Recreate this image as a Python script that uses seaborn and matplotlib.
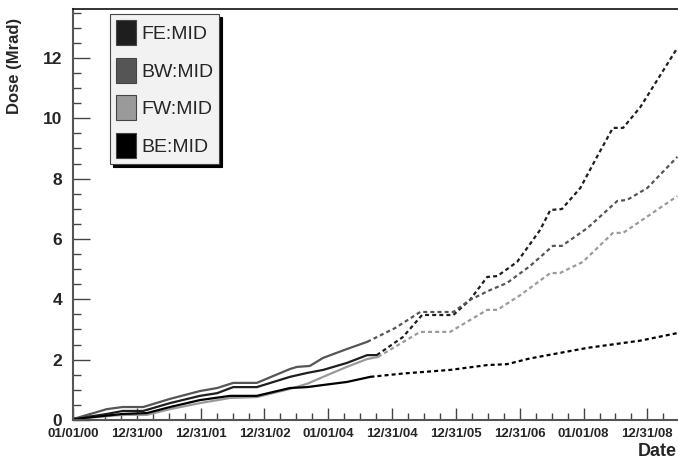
import pandas as pd
import seaborn as sns
import matplotlib.pyplot as plt
from matplotlib.patches import Patch
from matplotlib.ticker import MultipleLocator

# detectors and colours
detectors = ['FE:MID', 'BW:MID', 'FW:MID', 'BE:MID']
colors = ['#1e1e1e', '#555555', '#9a9a9a', '#000000']

# time axis: years since 01/01/00 (one tick = 365 days)
tick_labels = ['01/01/00', '12/31/00', '12/31/01', '12/31/02', '01/01/04',
               '12/31/04', '12/31/05', '12/31/06', '01/01/08', '12/31/08']

# measured dose (solid)
fe_t = [0, 0.53, 0.78, 1.10, 1.52, 1.99, 2.26, 2.51, 2.88, 3.40, 3.67, 3.92, 4.29, 4.61, 4.76]
fe_d = [0.03, 0.20, 0.30, 0.30, 0.56, 0.80, 0.89, 1.09, 1.09, 1.43, 1.56, 1.66, 1.89, 2.15, 2.15]
bw_t = [0, 0.53, 0.78, 1.10, 1.52, 1.99, 2.26, 2.51, 2.88, 3.40, 3.51, 3.71, 3.92, 4.29, 4.61]
bw_d = [0.03, 0.36, 0.43, 0.43, 0.70, 0.96, 1.06, 1.23, 1.23, 1.69, 1.76, 1.79, 2.06, 2.35, 2.59]
fw_t = [0, 0.78, 1.16, 1.52, 1.99, 2.46, 2.88, 3.40, 3.67, 3.92, 4.29, 4.61, 4.78]
fw_d = [0.03, 0.17, 0.17, 0.36, 0.56, 0.73, 0.76, 1.03, 1.20, 1.43, 1.76, 2.02, 2.09]
be_t = [0, 0.78, 1.16, 1.52, 1.99, 2.46, 2.88, 3.40, 3.67, 3.92, 4.29, 4.66]
be_d = [0.03, 0.20, 0.23, 0.43, 0.66, 0.80, 0.80, 1.06, 1.09, 1.16, 1.26, 1.43]

# projected dose (dashed)
fe_pt = [4.76, 5.17, 5.47, 5.96, 6.22, 6.49, 6.65, 6.96, 7.32, 7.48, 7.66, 7.95, 8.21, 8.46, 8.62, 8.89, 9.47]
fe_pd = [2.15, 2.75, 3.48, 3.48, 3.98, 4.74, 4.77, 5.24, 6.30, 6.96, 6.99, 7.69, 8.72, 9.68, 9.68, 10.37, 12.33]
bw_pt = [4.61, 5.05, 5.44, 5.96, 6.22, 6.54, 6.80, 7.16, 7.52, 7.66, 8.06, 8.53, 8.68, 9.00, 9.47]
bw_pd = [2.59, 3.05, 3.58, 3.58, 3.98, 4.31, 4.54, 5.10, 5.77, 5.77, 6.36, 7.26, 7.29, 7.69, 8.72]
fw_pt = [4.78, 5.44, 5.91, 6.49, 6.65, 7.01, 7.48, 7.63, 7.99, 8.46, 8.62, 9.47]
fw_pd = [2.09, 2.92, 2.92, 3.65, 3.65, 4.14, 4.87, 4.87, 5.24, 6.20, 6.20, 7.42]
be_pt = [4.66, 5.17, 5.91, 6.49, 6.80, 7.16, 8.06, 8.89, 9.47]
be_pd = [1.43, 1.54, 1.66, 1.82, 1.85, 2.04, 2.39, 2.63, 2.88]

rows = []
series = {
    'FE:MID': (fe_t, fe_d, fe_pt, fe_pd),
    'BW:MID': (bw_t, bw_d, bw_pt, bw_pd),
    'FW:MID': (fw_t, fw_d, fw_pt, fw_pd),
    'BE:MID': (be_t, be_d, be_pt, be_pd),
}
for name, (t, d, pt, pd_) in series.items():
    for a, b in zip(t, d):
        rows.append({'year': a, 'dose': b, 'detector': name, 'phase': 'measured'})
    for a, b in zip(pt, pd_):
        rows.append({'year': a, 'dose': b, 'detector': name, 'phase': 'projected'})
df = pd.DataFrame(rows)

sns.set_style('white')
plt.rcParams['font.family'] = ['Liberation Sans', 'DejaVu Sans']

fig = plt.figure(figsize=(6.78, 4.62), dpi=100)
ax = fig.add_axes([73 / 678, 42 / 462, 1 - 73 / 678, 411 / 462])

sns.lineplot(data=df, x='year', y='dose', hue='detector', style='phase',
             palette=dict(zip(detectors, colors)),
             dashes={'measured': '', 'projected': (1.8, 1.4)},
             estimator=None, sort=False, linewidth=1.6, legend=False, ax=ax)

ax.set_xlim(0, 9.48)
ax.set_ylim(0, 13.62)
ax.set_xticks(range(len(tick_labels)))
ax.set_xticklabels(tick_labels, fontsize=9.5, fontweight='bold')
ax.xaxis.set_minor_locator(MultipleLocator(0.25))
ax.yaxis.set_major_locator(MultipleLocator(2))
ax.yaxis.set_minor_locator(MultipleLocator(0.5))
for lab in ax.get_yticklabels():
    lab.set_fontsize(12.5)
    lab.set_fontweight('bold')
ax.tick_params(axis='x', which='major', direction='in', length=9, width=1, color='#444', pad=6)
ax.tick_params(axis='x', which='minor', direction='in', length=5, width=1, color='#444')
ax.tick_params(axis='y', which='major', direction='in', length=12, width=1, color='#444', pad=8)
ax.tick_params(axis='y', which='minor', direction='in', length=6, width=1, color='#444')
ax.tick_params(which='both', bottom=True, left=True, top=False, right=False)
ax.set_xlabel('')
ax.set_ylabel('')
for side in ['left', 'bottom']:
    ax.spines[side].set_color('#555')
    ax.spines[side].set_linewidth(1.5)
ax.spines['top'].set_color('#111')
ax.spines['top'].set_linewidth(1.2)
ax.spines['right'].set_visible(False)

fig.text(15 / 678, 1 - 66 / 462, 'Dose (Mrad)', rotation=90, ha='center', va='center',
         fontsize=12, fontweight='bold')
fig.text(0.998, 1 - 452 / 462, 'Date', ha='right', va='center', fontsize=13, fontweight='bold')

handles = [Patch(facecolor=c, edgecolor='#444', linewidth=0.8) for c in colors]
leg = ax.legend(handles, detectors, loc='upper left', bbox_to_anchor=(37 / 605, 1 - 5 / 411),
                fontsize=14, frameon=True, fancybox=False, framealpha=1,
                facecolor='#f2f2f2', edgecolor='#444',
                shadow={'color': 'black', 'alpha': 1},
                handlelength=1.05, handleheight=1.6, handletextpad=0.25,
                labelspacing=0.66, borderpad=0.3, borderaxespad=0)
leg.get_frame().set_linewidth(0.8)

fig.savefig('out.png', dpi=100)
